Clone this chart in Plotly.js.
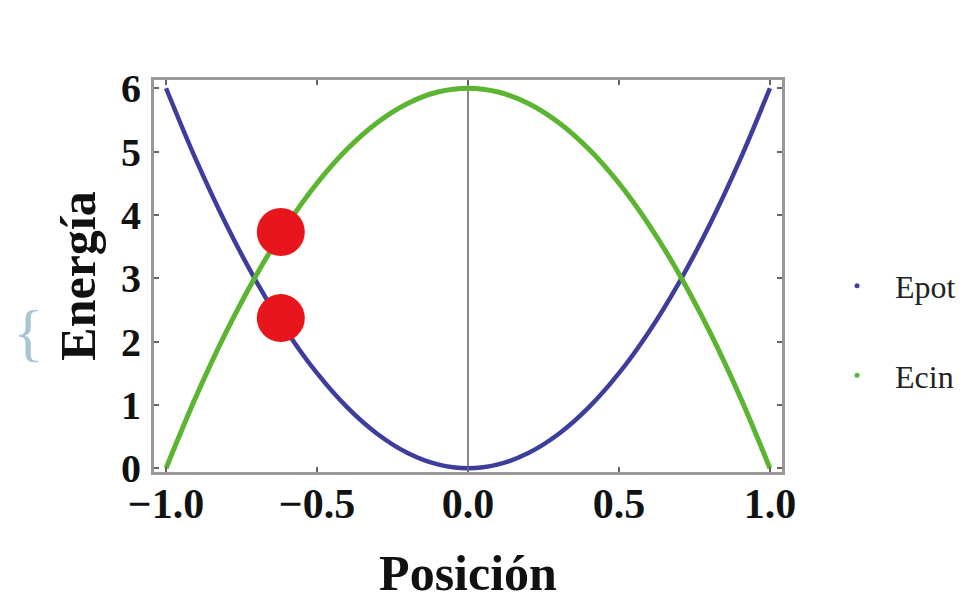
<!DOCTYPE html>
<html>
<head>
<meta charset="utf-8">
<script src="https://cdn.plot.ly/plotly-3.0.1.min.js"></script>
<style>html,body{margin:0;padding:0;background:#fff;}#chart{width:979px;height:602px;}</style>
</head>
<body>
<div id="chart"></div>
<script>
// Values
var posicion = [-1.0,-0.9,-0.8,-0.7,-0.6,-0.5,-0.4,-0.3,-0.2,-0.1,0.0,0.1,0.2,0.3,0.4,0.5,0.6,0.7,0.8,0.9,1.0];
var epot = [6.0,4.86,3.84,2.94,2.16,1.5,0.96,0.54,0.24,0.06,0.0,0.06,0.24,0.54,0.96,1.5,2.16,2.94,3.84,4.86,6.0];
var ecin = [0.0,1.14,2.16,3.06,3.84,4.5,5.04,5.46,5.76,5.94,6.0,5.94,5.76,5.46,5.04,4.5,3.84,3.06,2.16,1.14,0.0];
var puntosX = [-0.62,-0.62];
var puntosY = [3.73,2.37];
var seriesNames = ['Epot','Ecin'];
var xTickVals = [-1, -0.5, 0, 0.5, 1];
var xTickText = ['\u22121.0', '\u22120.5', '0.0', '0.5', '1.0'];
var yTickVals = [0, 1, 2, 3, 4, 5, 6];
var blue = '#3d3d9c', green = '#5cb531', red = '#e8161c';
var serif = 'Liberation Serif, Times New Roman, serif';

var traces = [
  {x: posicion, y: epot, mode: 'lines', line: {color: blue, width: 4.5, shape: 'spline'}, showlegend: false, hoverinfo: 'skip'},
  {x: posicion, y: ecin, mode: 'lines', line: {color: green, width: 5, shape: 'spline'}, showlegend: false, hoverinfo: 'skip'},
  {x: puntosX, y: puntosY, mode: 'markers', marker: {color: red, size: 48}, showlegend: false, hoverinfo: 'skip'},
  {x: [null], y: [null], mode: 'markers', name: seriesNames[0], legendgroup: 'a', marker: {color: blue, size: 5}},
  {x: [null], y: [null], mode: 'markers', name: seriesNames[1], legendgroup: 'b', marker: {color: green, size: 5}}
];

var layout = {
  width: 979, height: 602,
  margin: {l: 154, r: 197, t: 80, b: 130},
  paper_bgcolor: '#fff', plot_bgcolor: '#fff',
  font: {family: serif, color: '#111'},
  xaxis: {
    range: [-1.04, 1.04],
    tickvals: xTickVals, ticktext: xTickText,
    tickfont: {family: serif, size: 42, color: '#111', weight: 'bold'},
    ticklabelstandoff: -7,
    ticks: 'inside', ticklen: 5, tickcolor: '#666', tickwidth: 2,
    showline: true, linecolor: '#999', linewidth: 3, mirror: 'ticks',
    showgrid: false, automargin: false,
    zeroline: true, zerolinecolor: '#888', zerolinewidth: 2,
    title: {text: '<b>Posición</b>', font: {family: serif, size: 50, color: '#111'}, standoff: 29}
  },
  yaxis: {
    range: [-0.06, 6.13],
    tickvals: yTickVals,
    tickfont: {family: serif, size: 40, color: '#111', weight: 'bold'},
    ticklabelstandoff: 2,
    ticks: 'inside', ticklen: 5, tickcolor: '#666', tickwidth: 2,
    showline: true, linecolor: '#999', linewidth: 3, mirror: 'ticks',
    showgrid: false, zeroline: false, automargin: false,
    title: {text: '<b>Energía</b>', font: {family: serif, size: 50, color: '#111'}, standoff: 10}
  },
  legend: {
    x: 1.059, y: 0.36, xanchor: 'left', yanchor: 'middle',
    font: {family: serif, size: 32, color: '#222'},
    traceorder: 'grouped', tracegroupgap: 45,
    itemwidth: 66,
    bgcolor: 'rgba(0,0,0,0)'
  },
  annotations: [
    {xref: 'paper', yref: 'paper', x: -0.2, y: 0.357, xanchor: 'center', yanchor: 'middle',
     text: '{', showarrow: false, font: {family: serif, size: 64, color: '#a8c4d6', weight: 'normal'}}
  ]
};

Plotly.newPlot('chart', traces, layout, {displayModeBar: false, staticPlot: true});
</script>
</body>
</html>
